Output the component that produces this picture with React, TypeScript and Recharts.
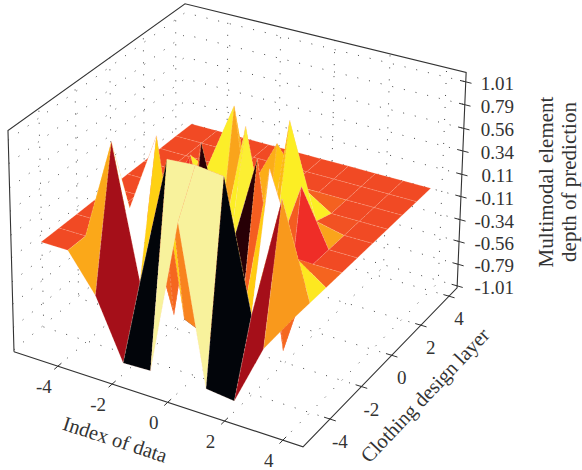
import { ScatterChart, Scatter, XAxis, YAxis } from "recharts";

// surface grid
const xValues = [-5.4, -4.4, -3.4, -2.4, -1.4, -0.4, 0.6, 1.6, 2.6, 3.6];
const yValues = [-4.4, -3.4, -2.4, -1.4, -0.4, 0.6, 1.6, 2.6, 3.6, 4.6];
const depthRows = [
  [-0.11, -0.11, -0.47, -1.05, -1.04, 0.47, -1.04, -1.07, -0.48, -0.11],
  [-0.11, -0.11, 0.87, -0.4, 0.85, 0.87, 0.84, -0.39, 0.78, -0.11],
  [-0.11, -0.11, 0.1, 0.87, -0.83, -0.95, -0.84, 0.85, 0.08, -0.11],
  [-0.11, -0.11, -0.11, -1.02, 0.75, -0.29, 0.74, -1.04, -0.11, -0.11],
  [-0.11, -0.11, -0.11, 0.43, -0.6, 0.85, -0.43, 0.42, -0.11, -0.11],
  [-0.11, -0.11, -0.11, 0.17, 0.85, -0.95, 0.85, -0.05, -0.11, -0.11],
  [-0.11, -0.11, -0.11, -0.11, -0.11, 0.43, 0.06, -0.11, -0.11, -0.11],
  [-0.11, -0.11, -0.11, -0.11, -0.11, -0.11, -0.11, -0.11, -0.11, -0.11],
  [-0.11, -0.11, -0.11, -0.11, -0.11, -0.11, -0.11, -0.11, -0.11, -0.11],
  [-0.11, -0.11, -0.11, -0.11, -0.11, -0.11, -0.11, -0.11, -0.11, -0.11],
];

const xTicks = [-4, -2, 0, 2, 4];
const yTicks = [-4, -2, 0, 2, 4];
const zTicks = [1.01, 0.79, 0.56, 0.34, 0.11, -0.11, -0.34, -0.56, -0.79, -1.01];

const xRange = [-5.65, 4.68];
const yRange = [-5.65, 4.59];
const zRange = [-1.03, 1.1];

const colorStops: [number, number[]][] = [
  [-0.41, [2, 5, 10]],
  [-0.33, [42, 0, 6]],
  [-0.3, [165, 15, 25]],
  [-0.25, [165, 15, 25]],
  [-0.21, [239, 45, 39]],
  [-0.11, [241, 74, 36]],
  [-0.06, [245, 101, 31]],
  [0.03, [250, 160, 28]],
  [0.11, [255, 201, 14]],
  [0.17, [252, 238, 36]],
  [0.21, [252, 238, 36]],
  [0.27, [248, 242, 156]],
  [0.3, [248, 242, 156]],
  [0.32, [255, 255, 255]],
];

const FONT = "'Liberation Serif', serif";
const INK = "#333";

// perspective of the box, fitted to its corners
function project(x: number, y: number, z: number) {
  const s = (x - xRange[0]) * 0.0968;
  const t = (y - yRange[0]) * 0.0977;
  const h = 0.0102 + (z + 1.01) * 0.4698;
  const d = 1 - 0.0588 * s + 0.0957 * t - 0.0336 * h;
  return {
    px: (14 + 271.2 * s + 188.7 * t - 6.28 * h) / d,
    py: (352 + 68.7 * s - 122 * t - 225.6 * h) / d,
  };
}

function faceColor(v: number) {
  if (v <= colorStops[0][0]) return `rgb(${colorStops[0][1].join(",")})`;
  for (let k = 1; k < colorStops.length; k++) {
    const [a, ca] = colorStops[k - 1];
    const [b, cb] = colorStops[k];
    if (v <= b) {
      const f = (v - a) / (b - a);
      return `rgb(${ca.map((c, n) => Math.round(c + (cb[n] - c) * f)).join(",")})`;
    }
  }
  return "rgb(255,255,255)";
}

const faces: { points: { px: number; py: number }[]; color: string }[] = [];
for (let j = yValues.length - 2; j >= 0; j--) {
  for (let i = 0; i < xValues.length - 1; i++) {
    const corners: [number, number][] = [
      [i, j],
      [i + 1, j],
      [i + 1, j + 1],
      [i, j + 1],
    ];
    const mean = corners.reduce((sum, [a, b]) => sum + depthRows[b][a], 0) / 4;
    faces.push({
      points: corners.map(([a, b]) => project(xValues[a], yValues[b], depthRows[b][a])),
      color: faceColor(mean),
    });
  }
}

const gridLines: { px: number; py: number }[][] = [];
xTicks.forEach((x) => {
  gridLines.push([project(x, yRange[0], zRange[0]), project(x, yRange[1], zRange[0]), project(x, yRange[1], zRange[1])]);
});
yTicks.forEach((y) => {
  gridLines.push([project(xRange[1], y, zRange[0]), project(xRange[0], y, zRange[0]), project(xRange[0], y, zRange[1])]);
});
zTicks.forEach((z) => {
  gridLines.push([project(xRange[0], yRange[0], z), project(xRange[0], yRange[1], z), project(xRange[1], yRange[1], z)]);
});

const outline = [
  project(xRange[0], yRange[0], zRange[0]),
  project(xRange[0], yRange[0], zRange[1]),
  project(xRange[0], yRange[1], zRange[1]),
  project(xRange[1], yRange[1], zRange[1]),
  project(xRange[1], yRange[1], zRange[0]),
  project(xRange[1], yRange[0], zRange[0]),
  project(xRange[0], yRange[0], zRange[0]),
];

const tickMarks: { px: number; py: number }[][] = [
  ...xTicks.map((x) => [project(x, yRange[0] - 0.2, zRange[0]), project(x, yRange[0] + 0.2, zRange[0])]),
  ...yTicks.map((y) => [project(xRange[1] - 0.2, y, zRange[0]), project(xRange[1] + 0.2, y, zRange[0])]),
  ...zTicks.map((z) => [project(xRange[1] - 0.2, yRange[1], z), project(xRange[1] + 0.2, yRange[1], z)]),
];

const tickLabels = [
  ...xTicks.map((x) => {
    const p = project(x, yRange[0], zRange[0]);
    return { px: p.px - 14, py: p.py + 26.5, text: String(x), anchor: "middle", angle: 0, size: 19 };
  }),
  ...yTicks.map((y) => {
    const p = project(xRange[1], y, zRange[0]);
    return { px: p.px + 10, py: p.py + 29, text: String(y), anchor: "middle", angle: 0, size: 19 };
  }),
  ...zTicks.map((z) => {
    const p = project(xRange[1], yRange[1], z);
    return { px: 514, py: p.py + 8, text: z.toFixed(2), anchor: "end", angle: 0, size: 19 };
  }),
];

const axisTitles = [
  { px: 113, py: 446, text: "Index of data", anchor: "middle", angle: 18, size: 20.5 },
  { px: 430, py: 400, text: "Clothing design layer", anchor: "middle", angle: -46.5, size: 20.5 },
  { px: 553, py: 182, text: "Multimodal element", anchor: "middle", angle: -90, size: 21 },
  { px: 576, py: 182, text: "depth of prediction", anchor: "middle", angle: -90, size: 21 },
];

const noDot = () => <g />;

function Label(props: any) {
  const { cx, cy, payload } = props;
  return (
    <text
      x={cx}
      y={cy}
      textAnchor={payload.anchor}
      fontFamily={FONT}
      fontSize={payload.size}
      fill={INK}
      transform={payload.angle ? `rotate(${payload.angle} ${cx} ${cy})` : undefined}
    >
      {payload.text}
    </text>
  );
}

function facePolygon(color: string) {
  return (p: any) => (
    <polygon
      points={p.points.map((q: any) => `${q.x},${q.y}`).join(" ")}
      fill={color}
      stroke="#ffcdb4"
      strokeWidth={0.4}
      strokeOpacity={0.6}
      strokeDasharray="3 1.5"
      strokeLinejoin="round"
    />
  );
}

export default function App() {
  return (
    <div style={{ position: "absolute", left: 0, top: 0, background: "#fff" }}>
      <ScatterChart width={582} height={470} margin={{ top: 0, right: 0, bottom: 0, left: 0 }}>
        <XAxis type="number" dataKey="px" domain={[0, 582]} hide allowDataOverflow />
        <YAxis type="number" dataKey="py" domain={[0, 470]} reversed hide allowDataOverflow />
        {gridLines.map((line, n) => (
          <Scatter
            key={`grid-${n}`}
            data={line}
            shape={noDot}
            line={{ stroke: "#444", strokeWidth: 1, strokeDasharray: "1 11" }}
            isAnimationActive={false}
          />
        ))}
        <Scatter data={outline} shape={noDot} line={{ stroke: INK, strokeWidth: 1.1 }} isAnimationActive={false} />
        {tickMarks.map((line, n) => (
          <Scatter
            key={`tick-${n}`}
            data={line}
            shape={noDot}
            line={{ stroke: INK, strokeWidth: 1 }}
            isAnimationActive={false}
          />
        ))}
        {faces.map((face, n) => (
          <Scatter
            key={`face-${n}`}
            data={face.points}
            shape={noDot}
            line={facePolygon(face.color)}
            isAnimationActive={false}
          />
        ))}
        <Scatter data={tickLabels} shape={Label} isAnimationActive={false} />
        <Scatter data={axisTitles} shape={Label} isAnimationActive={false} />
      </ScatterChart>
    </div>
  );
}
